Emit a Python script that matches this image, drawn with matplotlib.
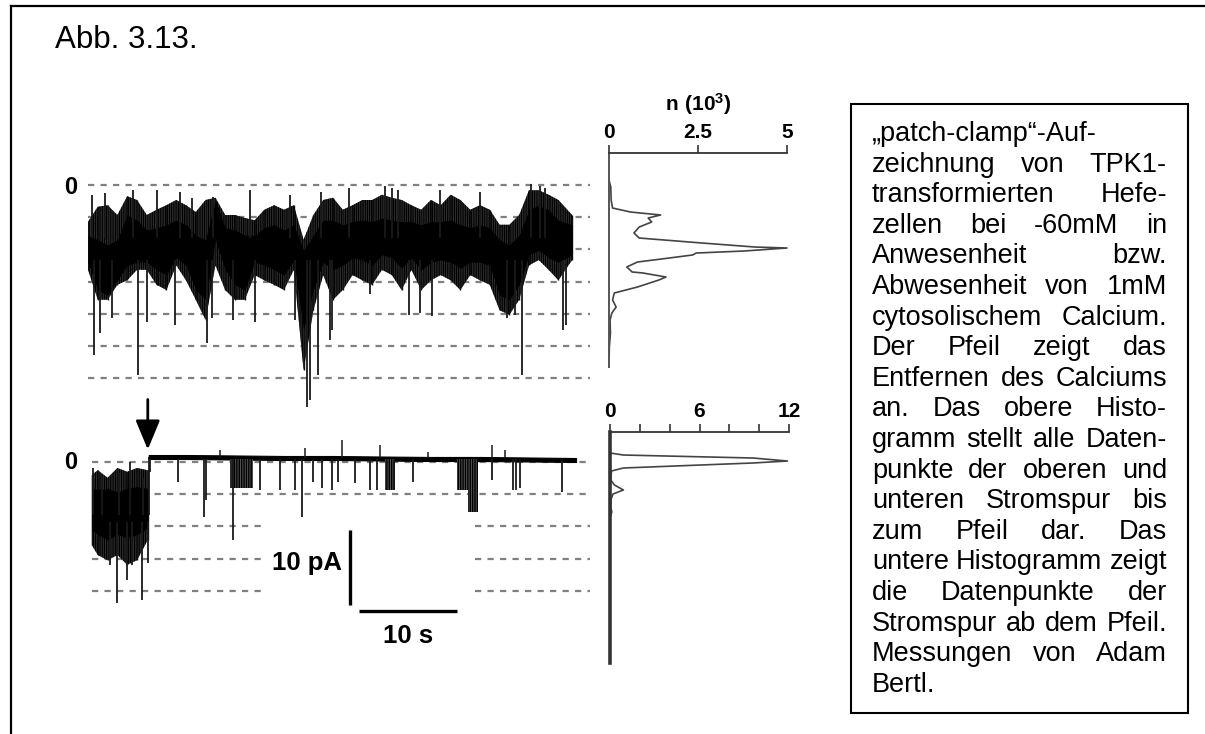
import numpy as np
import matplotlib
matplotlib.use('Agg')
import matplotlib.pyplot as plt
from matplotlib.lines import Line2D
from matplotlib.patches import Rectangle

plt.rcParams['font.family'] = ['Liberation Sans', 'DejaVu Sans']
plt.rcParams['lines.scale_dashes'] = False
plt.rcParams['hatch.linewidth'] = 1.0
plt.rcParams['mathtext.fontset'] = 'custom'
plt.rcParams['mathtext.bf'] = 'Liberation Sans:bold'
plt.rcParams['mathtext.rm'] = 'Liberation Sans:bold'

# ---- data (current in pA, time in s) ----
unit_pa = 4.29          # single-channel level spacing
top_levels = 7
bot_levels = 5

# upper trace, sampled every second: outer envelope and dense core
top_t = list(range(49)) + [49.4]
top_out_hi = [-4.9, -2.9, -2.7, -4.0, -1.5, -2.0, -4.0, -3.3, -2.7, -2.0,
              -2.7, -3.6, -2.0, -1.7, -4.0, -4.0, -4.4, -4.7, -3.3, -2.7,
              -3.3, -2.7, -7.3, -4.0, -2.0, -1.7, -3.3, -2.7, -2.0, -2.0,
              -1.3, -1.7, -2.0, -2.7, -3.3, -2.0, -2.7, -1.3, -2.0, -3.3,
              -2.7, -3.3, -5.3, -5.3, -4.0, -0.7, -0.7, -1.3, -2.0, -4.0]
top_out_lo = [-11.3, -15.3, -15.3, -13.3, -12.7, -11.3, -11.3, -13.3, -14.0, -10.7,
              -12.7, -15.3, -18.0, -10.7, -14.0, -15.3, -15.3, -12.0, -12.7, -13.3,
              -14.0, -11.3, -24.7, -16.7, -12.0, -15.3, -14.0, -12.0, -12.7, -13.3,
              -11.3, -12.0, -14.0, -11.3, -14.0, -12.7, -12.0, -12.7, -14.0, -12.0,
              -12.7, -13.3, -16.7, -17.3, -15.3, -10.7, -10.0, -11.3, -12.7, -10.0]
top_core_hi = [-6.7, -7.3, -8.0, -7.3, -4.0, -4.7, -6.0, -5.7, -5.3, -4.7,
               -5.3, -6.7, -7.3, -2.0, -5.7, -6.0, -6.7, -6.7, -5.7, -5.3,
               -6.0, -5.3, -8.7, -6.7, -4.7, -4.7, -5.3, -4.9, -4.7, -4.9,
               -4.4, -4.7, -4.9, -4.9, -5.3, -4.9, -4.9, -4.7, -5.3, -5.7,
               -5.3, -5.7, -7.3, -8.0, -6.7, -3.3, -2.7, -3.3, -4.7, -5.3]
top_core_lo = [-10.3, -14.0, -14.7, -12.7, -10.7, -10.3, -10.3, -11.3, -12.0, -9.7,
               -10.7, -14.0, -15.3, -7.3, -11.3, -13.3, -14.0, -10.3, -10.7, -11.3,
               -12.0, -10.0, -19.3, -14.0, -10.3, -11.3, -10.7, -9.7, -10.0, -10.7,
               -9.3, -9.7, -11.1, -9.7, -11.3, -10.3, -10.0, -10.3, -11.1, -10.3,
               -10.3, -10.7, -14.7, -15.3, -13.3, -9.3, -8.7, -9.7, -10.3, -9.3]
top_dn_t = [0.6, 1.2, 2.4, 5.1, 6.0, 8.9, 12.1, 12.7, 14.8, 17.0, 21.1, 22.3, 22.7,
            23.5, 24.7, 24.9, 28.8, 32.8, 33.9, 35.1, 42.8, 43.6, 44.3, 48.5, 48.8]
top_dn_i = [-22.7, -19.7, -17.7, -25.3, -18.3, -18.7, -21.1, -17.7, -18.0, -18.3, -18.0,
            -29.6, -28.7, -25.3, -20.7, -19.3, -14.5, -17.3, -17.1, -17.5, -17.7, -17.3,
            -25.3, -19.3, -18.7]
top_up_t = [0.4, 1.7, 4.6, 7.0, 9.4, 10.6, 12.8, 16.5, 20.6, 23.8, 26.6, 30.3, 31.0,
            31.6, 35.9, 40.0, 45.2, 46.1, 46.6]
top_up_i = [-1.3, -1.1, -0.7, -0.7, -0.9, -1.7, -1.6, -0.7, -1.3, -0.9, -0.4, -0.1, -0.4,
            -0.7, -0.7, -0.9, 0.1, -0.1, -0.4]

# lower trace before Ca removal (arrow)
arrow_t = 6.1
bot_pre_t = [0.4, 1, 2, 3, 4, 5, 6.1]
bot_pre_out_hi = [-1.7, -1.1, -2.1, -0.8, -1.3, -0.8, -1.1]
bot_pre_out_lo = [-11.1, -12.4, -13.1, -12.4, -13.7, -13.1, -10.4]
bot_pre_core_hi = [-3.5, -3.7, -3.5, -4.0, -3.5, -3.3, -3.5]
bot_pre_core_lo = [-9.1, -9.7, -10.4, -9.7, -10.1, -9.7, -8.8]
bot_pre_dn_t = [2.2, 3.0, 4.0, 4.5, 5.5, 6.1]
bot_pre_dn_i = [-13.7, -18.8, -15.7, -13.7, -18.4, -13.5]
bot_pre_up_t = [0.5, 1.4, 3.2, 4.3, 5.6, 6.2]
bot_pre_up_i = [-0.8, -2.0, -1.5, 0.0, -2.1, 0.7]

# lower trace after Ca removal
bot_base_t = [6.2, 10, 15, 20, 25, 30, 35, 40, 45, 49.8]
bot_base_hi = [0.93, 0.93, 0.87, 0.8, 0.8, 0.73, 0.67, 0.67, 0.6, 0.53]
bot_base_lo = [0.4, 0.4, 0.33, 0.27, 0.27, 0.2, 0.13, 0.13, 0.07, 0.0]
bot_dn_t = [6.3, 9.2, 11.8, 12.0, 14.8, 17.6, 19.6, 21.1, 21.8, 23.0, 23.9, 24.9,
            25.5, 27.2, 28.8, 29.5, 33.2, 41.2, 43.4, 43.7, 44.1, 48.4]
bot_dn_i = [-1.3, -2.7, -7.3, -5.1, -10.4, -3.7, -3.7, -3.7, -7.3, -2.7, -3.5, -3.7,
            -2.7, -2.8, -3.7, -3.7, -2.7, -2.4, -3.7, -3.7, -3.5, -4.0]
burst_t0 = [14.5, 30.3, 37.7, 38.8]
burst_t1 = [16.8, 31.3, 38.8, 39.8]
burst_i = [-3.5, -3.7, -3.7, -6.7]
bot_up_t = [13.5, 22.1, 25.9, 29.8, 34.7, 41.2, 42.6]
bot_up_i = [1.6, 1.9, 2.9, 2.3, 1.3, 2.3, 1.6]

# amplitude histograms
top_hist_i = [0.67, -0.27, -2.0, -3.07, -3.6, -4.0, -4.4, -4.93, -5.6, -6.4, -7.07,
              -7.73, -8.27, -8.4, -8.8, -9.07, -9.33, -9.73, -10.27, -10.93, -11.6,
              -11.73, -12.27, -12.67, -13.6, -14.4, -15.33, -16.27, -17.07, -18.0,
              -19.73, -21.6, -24.27]
top_hist_n = [0, 0.05, 0.06, 0.1, 0.6, 1.45, 1.1, 1.2, 0.85, 0.7, 0.85, 2.6, 4.1,
              5.0, 3.8, 2.45, 2.35, 1.7, 0.8, 0.5, 0.65, 0.95, 1.6, 1.4, 0.8, 0.15,
              0.1, 0.2, 0.08, 0.03, 0.04, 0.01, 0]
bot_hist_i = [1.2, 0.93, 0.53, 0.13, -0.13, -0.8, -1.2, -2.4, -3.07, -3.73, -4.27,
              -5.07, -6.0, -6.67, -7.47]
bot_hist_n = [0, 0.9, 9.6, 11.9, 9.6, 0.9, 0.1, 0.05, 0.3, 0.9, 0.2, 0.05, 0.05, 0.12, 0]

scale_pa = 10
scale_s = 10

caption = ["\u201epatch-clamp\u201c-Auf-", "zeichnung von TPK1-", "transformierten Hefe-",
           "zellen bei -60mM in", "Anwesenheit bzw.", "Abwesenheit von 1mM",
           "cytosolischem Calcium.", "Der Pfeil zeigt das", "Entfernen des Calciums",
           "an. Das obere Histo-", "gramm stellt alle Daten-", "punkte der oberen und",
           "unteren Stromspur bis", "zum Pfeil dar. Das", "untere Histogramm zeigt",
           "die Datenpunkte der", "Stromspur ab dem Pfeil.", "Messungen von Adam",
           "Bertl."]

# ---- layout ----
W, H = 1205, 734
fig = plt.figure(figsize=(W / 100, H / 100), dpi=100)
PX_S, PX_PA = 9.8, 7.5


def px_axes(x0, y0, x1, y1):
    return fig.add_axes([x0 / W, 1 - y1 / H, (x1 - x0) / W, (y1 - y0) / H])


def trace_axes(y_zero, y0, y1):
    ax = px_axes(88, y0, 600, y1)
    ax.set_xlim(0, 512 / PX_S)
    ax.set_ylim((y_zero - y1) / PX_PA, (y_zero - y0) / PX_PA)
    ax.axis('off')
    return ax


def band(ax, t, out_lo, out_hi, core_lo, core_hi):
    # noisy record: hatched outer envelope, solid core
    ax.fill_between(t, out_lo, out_hi, facecolor='#5a5a5a', edgecolor='k',
                    hatch='|||||||||', lw=0, zorder=2)
    ax.vlines(t, out_lo, out_hi, color='#111111', lw=1.0, zorder=2)
    ax.fill_between(t, core_lo, core_hi, color='k', lw=0, zorder=2)


dash = dict(color='#808080', lw=1.6, dashes=(4.5, 4.5), zorder=1)
bold = dict(fontweight='bold', color='k')
spike = dict(color='#1a1a1a', lw=1.3, zorder=2)

# frame and caption box
fig.add_artist(Line2D([11 / W, 1], [1 - 6 / H, 1 - 6 / H], transform=fig.transFigure, color='k', lw=1.6))
fig.add_artist(Line2D([11 / W, 11 / W], [1 - 6 / H, 0], transform=fig.transFigure, color='k', lw=1.6))
fig.add_artist(Rectangle((851 / W, 1 - 713 / H), 337 / W, 609 / H, transform=fig.transFigure,
                         fill=False, ec='k', lw=1.5))
fig.text(55 / W, 1 - 48 / H, "Abb. 3.13.", fontsize=22.5, va='baseline')

# ---- upper trace ----
ax1 = trace_axes(185, 170, 415)
for k in range(top_levels):
    ax1.plot([0, 51.2], [-k * unit_pa] * 2, **dash)
band(ax1, top_t, top_out_lo, top_out_hi, top_core_lo, top_core_hi)
ax1.vlines(top_dn_t, -10, top_dn_i, **spike)
ax1.vlines(top_up_t, -7, top_up_i, **spike)
ax1.text(-1.1, -0.4, '0', ha='right', va='center', fontsize=17, **bold)

# ---- lower trace ----
ax2 = trace_axes(462, 380, 680)
for k in range(bot_levels):
    lvl = [-k * unit_pa] * 2
    if k < 2:
        ax2.plot([0.4, 51.2], lvl, **dash)
    else:
        ax2.plot([0.4, 17.9], lvl, **dash)
        ax2.plot([39.5, 51.2], lvl, **dash)
band(ax2, bot_pre_t, bot_pre_out_lo, bot_pre_out_hi, bot_pre_core_lo, bot_pre_core_hi)
ax2.vlines(bot_pre_dn_t, -8, bot_pre_dn_i, **spike)
ax2.vlines(bot_pre_up_t, -7, bot_pre_up_i, **spike)
ax2.fill_between(bot_base_t, bot_base_lo, bot_base_hi, color='k', lw=0.8, zorder=2)
for t0, t1, lv in zip(burst_t0, burst_t1, burst_i):
    ax2.bar(t0, lv - 0.4, bottom=0.4, width=t1 - t0, align='edge', facecolor='#555555',
            edgecolor='k', hatch='|||||||', lw=0, zorder=2)
ax2.vlines(bot_dn_t, 0.4, bot_dn_i, **spike)
ax2.vlines(bot_up_t, 0.5, bot_up_i, color='#1a1a1a', lw=1.1, zorder=2)
ax2.text(-1.1, 0, '0', ha='right', va='center', fontsize=17, **bold)

# arrow marking Ca removal
ax2.annotate('', xy=(arrow_t, 1.3), xytext=(arrow_t, 8.7),
             arrowprops=dict(arrowstyle='-|>,head_length=1.2,head_width=0.5',
                             mutation_scale=15, color='k', lw=2))

# scale bars
sb_t, sb_i = 26.7, -9.0
ax2.plot([sb_t, sb_t], [sb_i, sb_i - scale_pa], color='k', lw=2.4, solid_capstyle='butt')
ax2.plot([sb_t + 0.95, sb_t + 0.95 + scale_s], [sb_i - scale_pa - 0.9] * 2, color='k', lw=2.4,
         solid_capstyle='butt')
ax2.text(sb_t - 0.8, sb_i - scale_pa / 2 + 0.5, f'{scale_pa} pA', ha='right', va='center',
         fontsize=18.5, **bold)
ax2.text(sb_t + 0.95 + scale_s / 2, sb_i - scale_pa - 4.2, f'{scale_s} s', ha='center',
         va='center', fontsize=18.5, **bold)


# ---- histograms ----
def hist_axes(box, y_zero, xmax, ticks, labels, left_lw, left_col):
    x0, y0, x1, y1 = box
    ax = px_axes(x0, y0, x1, y1)
    ax.set_xlim(0, xmax)
    ax.set_ylim((y_zero - y1) / PX_PA, (y_zero - y0) / PX_PA)
    for s in ('right', 'bottom'):
        ax.spines[s].set_visible(False)
    ax.spines['top'].set_linewidth(1.3)
    ax.spines['top'].set_color('#333333')
    ax.spines['left'].set_linewidth(left_lw)
    ax.spines['left'].set_color(left_col)
    ax.xaxis.tick_top()
    ax.set_xticks(ticks)
    ax.set_xticklabels(labels, fontsize=15, fontweight='bold')
    ax.tick_params(axis='x', length=6, width=1.2, pad=2, color='#333333')
    ax.set_yticks([])
    ax.patch.set_visible(False)
    return ax


ax3 = hist_axes((609, 153, 787, 367), 185, 5, [0, 2.5, 5], ['0', '2.5', '5'], 1.4, '#555555')
ax3.plot(top_hist_n, top_hist_i, color='#444444', lw=1.2, clip_on=False)
ax3.xaxis.set_label_position('top')
ax3.set_xlabel(r'$\mathbf{n\ (10^3)}$', fontsize=15, labelpad=9)

ax4 = hist_axes((610, 432, 789, 663), 462, 12, [0, 2, 4, 6, 8, 10, 12],
                ['0', '', '', '6', '', '', '12'], 2.6, '#333333')
ax4.plot(bot_hist_n, bot_hist_i, color='#444444', lw=1.2, clip_on=False)

# ---- justified caption text ----
renderer = fig.canvas.get_renderer()
txt_left, txt_right = 872, 1167
fs = 19.5
for i, line in enumerate(caption):
    yb = 1 - (141 + i * 30.6) / H
    words = line.split(' ')
    if len(words) > 1 and i < len(caption) - 1:
        widths = []
        for w in words:
            tmp = fig.text(0, 0, w, fontsize=fs)
            widths.append(tmp.get_window_extent(renderer).width)
            tmp.remove()
        gap = (txt_right - txt_left - sum(widths)) / (len(words) - 1)
        x = txt_left
        for w, wd in zip(words, widths):
            fig.text(x / W, yb, w, fontsize=fs, va='baseline')
            x += wd + gap
    else:
        fig.text(txt_left / W, yb, line, fontsize=fs, va='baseline')

fig.savefig('out.png', dpi=100)
